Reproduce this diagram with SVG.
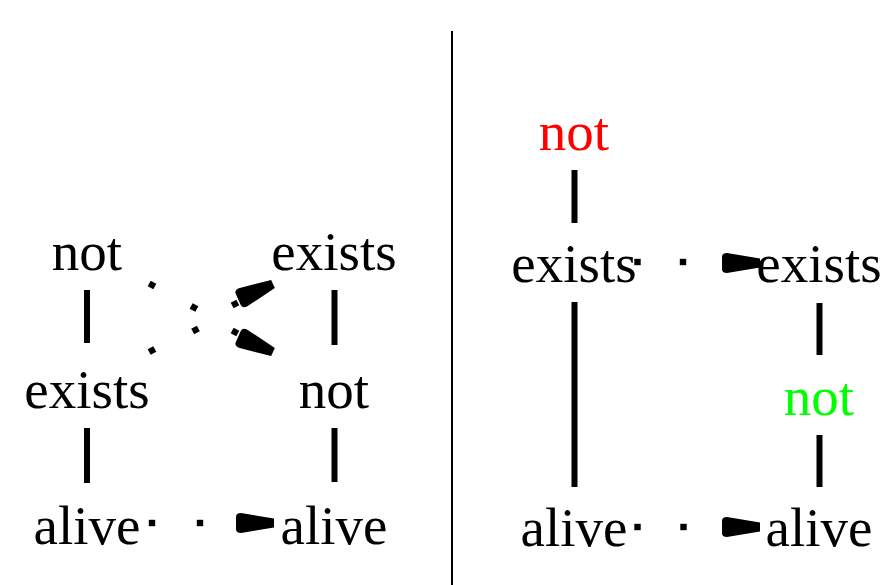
<svg xmlns="http://www.w3.org/2000/svg" xmlns:xlink="http://www.w3.org/1999/xlink" width="883" height="585" viewBox="0 0 883 585">
<style>
  text { font-family: "Liberation Serif", "Times New Roman", serif; font-size: 55px; text-anchor: middle; fill: #000; }
  .red { fill: #ff0000; }
  .green { fill: #00ff00; }
  .edge { stroke: #000; stroke-width: 6; fill: none; }
  .dot { fill: #000; }
  .head { fill: #000; }
</style>
<defs>
  <path id="ah" d="M0,-4.5 L-33,-10 Q-38,-10 -38,-6 L-38,6 Q-38,10 -33,10 L0,4.5 Z"/>
  <rect id="dt" x="-3.2" y="-3.2" width="6.4" height="6.4"/>
</defs>
<rect width="883" height="585" fill="#fff"/>
<line x1="452" y1="31" x2="452" y2="585" stroke="#000" stroke-width="2"/>

<g id="L_not1"><text x="87" y="270">not</text></g>
<g id="L_exists1"><text x="87" y="408">exists</text></g>
<g id="L_alive1"><text x="87" y="544">alive</text></g>
<g id="L_exists2"><text x="334" y="270">exists</text></g>
<g id="L_not2"><text x="334" y="408">not</text></g>
<g id="L_alive2"><text x="334" y="544">alive</text></g>

<g id="R_not1"><text class="red" x="574" y="150">not</text></g>
<g id="R_exists1"><text x="574" y="282">exists</text></g>
<g id="R_alive1"><text x="574" y="546">alive</text></g>
<g id="R_exists2"><text x="819" y="282">exists</text></g>
<g id="R_not2"><text class="green" x="819" y="415">not</text></g>
<g id="R_alive2"><text x="819" y="546">alive</text></g>

<g id="connectors">
  <line class="edge" x1="87" y1="290" x2="87" y2="343"/>
  <line class="edge" x1="87" y1="428" x2="87" y2="483"/>
  <line class="edge" x1="334.5" y1="290" x2="334.5" y2="345"/>
  <line class="edge" x1="334.5" y1="428" x2="334.5" y2="482"/>
  <line class="edge" x1="574.5" y1="170" x2="574.5" y2="223"/>
  <line class="edge" x1="574.5" y1="302" x2="574.5" y2="487"/>
  <line class="edge" x1="819.5" y1="303" x2="819.5" y2="355"/>
  <line class="edge" x1="819.5" y1="435" x2="819.5" y2="487"/>

  <!-- not -> not (left panel, diagonal down) -->
  <use class="dot" href="#dt" xlink:href="#dt" transform="translate(152,285) rotate(28)"/>
  <use class="dot" href="#dt" xlink:href="#dt" transform="translate(194,307.5) rotate(28)"/>
  <use class="dot" href="#dt" xlink:href="#dt" transform="translate(235,332) rotate(28)"/>
  <use class="head" href="#ah" xlink:href="#ah" transform="translate(273,352) rotate(24)"/>

  <!-- exists -> exists (left panel, diagonal up) -->
  <use class="dot" href="#dt" xlink:href="#dt" transform="translate(152,350.5) rotate(-28)"/>
  <use class="dot" href="#dt" xlink:href="#dt" transform="translate(195.5,330) rotate(-28)"/>
  <use class="dot" href="#dt" xlink:href="#dt" transform="translate(235,304) rotate(-28)"/>
  <use class="head" href="#ah" xlink:href="#ah" transform="translate(273,284) rotate(-24)"/>

  <!-- alive -> alive (left panel) -->
  <use class="dot" href="#dt" xlink:href="#dt" transform="translate(152,523)"/>
  <use class="dot" href="#dt" xlink:href="#dt" transform="translate(200,523)"/>
  <use class="head" href="#ah" xlink:href="#ah" transform="translate(274,523)"/>

  <!-- exists -> exists (right panel) -->
  <use class="dot" href="#dt" xlink:href="#dt" transform="translate(637.5,262)"/>
  <use class="dot" href="#dt" xlink:href="#dt" transform="translate(683,262)"/>
  <use class="head" href="#ah" xlink:href="#ah" transform="translate(760,263)"/>

  <!-- alive -> alive (right panel) -->
  <use class="dot" href="#dt" xlink:href="#dt" transform="translate(637.5,527)"/>
  <use class="dot" href="#dt" xlink:href="#dt" transform="translate(683.5,527)"/>
  <use class="head" href="#ah" xlink:href="#ah" transform="translate(760,527)"/>
</g>
</svg>
